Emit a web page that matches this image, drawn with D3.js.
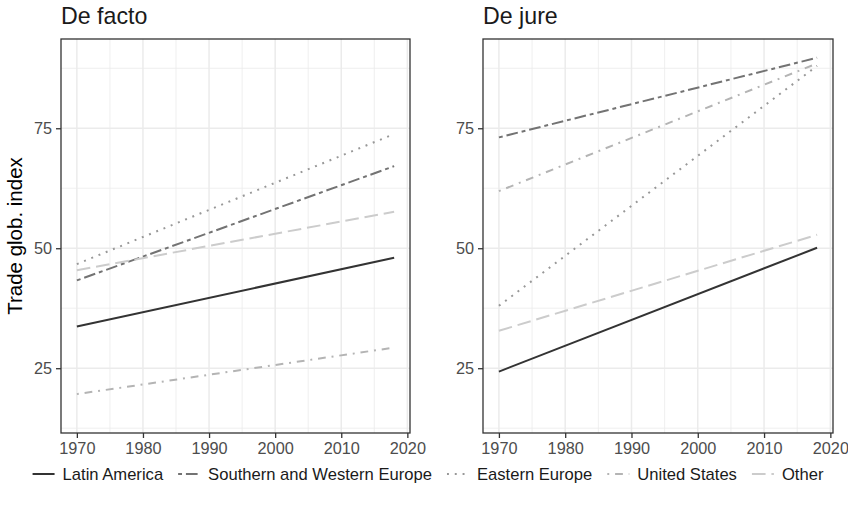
<!DOCTYPE html>
<html>
<head>
<meta charset="utf-8">
<script src="https://cdn.jsdelivr.net/npm/d3@7"></script>
<style>
  html, body { margin: 0; padding: 0; background: #ffffff; }
  svg { display: block; font-family: "Liberation Sans", Arial, sans-serif; }
</style>
</head>
<body>
<svg id="chart" width="848" height="513"></svg>
<script>
// Fitted trend lines of the trade globalisation index, 1970–2018
const years = [1970, 2018];
const regions = ["Latin America", "Southern and Western Europe", "Eastern Europe", "United States", "Other"];
const panels = ["De facto", "De jure"];

// value at 1970 and 2018 for each region, in the order of `regions`
const deFactoStart = [33.7, 43.3, 46.7, 19.6, 45.4];
const deFactoEnd   = [48.0, 67.1, 73.8, 29.3, 57.6];
const deJureStart  = [24.3, 73.1, 38.0, 61.9, 32.8];
const deJureEnd    = [50.1, 89.7, 88.0, 88.5, 52.8];

const xTicks = [1970, 1980, 1990, 2000, 2010, 2020];
const xMinor = [1975, 1985, 1995, 2005, 2015];
const yTicks = [25, 50, 75];
const yMinor = [12.5, 37.5, 62.5, 87.5];

const colours = ["#333333", "#737373", "#989898", "#b4b4b4", "#cccccc"];
// solid, twodash, dotted, dotdash, longdash (R patterns scaled by line width)
const u = 1.95;
const dashes = [
  "none",
  [2, 2, 6, 2].map(v => v * u).join(" "),
  [1, 3].map(v => v * u).join(" "),
  [1, 3, 4, 3].map(v => v * u).join(" "),
  [7, 3].map(v => v * u).join(" ")
];

const svg = d3.select("#chart");
const plotTop = 39, plotBottom = 433;
const panelX = [[61, 410], [483, 833]];
const panelData = [[deFactoStart, deFactoEnd], [deJureStart, deJureEnd]];

const y = d3.scaleLinear().domain([11.5, 93.6]).range([plotBottom, plotTop]);

panels.forEach((title, p) => {
  const [x0, x1] = panelX[p];
  const x = d3.scaleLinear().domain([1967.6, 2020.4]).range([x0, x1]);
  const g = svg.append("g");

  // panel background
  g.append("rect").attr("x", x0).attr("y", plotTop)
    .attr("width", x1 - x0).attr("height", plotBottom - plotTop).attr("fill", "#ffffff");

  // minor grid
  g.selectAll(".vminor").data(xMinor).join("line")
    .attr("x1", d => x(d)).attr("x2", d => x(d)).attr("y1", plotTop).attr("y2", plotBottom)
    .attr("stroke", "#ebebeb").attr("stroke-width", 0.8);
  g.selectAll(".hminor").data(yMinor).join("line")
    .attr("x1", x0).attr("x2", x1).attr("y1", d => y(d)).attr("y2", d => y(d))
    .attr("stroke", "#ebebeb").attr("stroke-width", 0.8);
  // major grid
  g.selectAll(".vmajor").data(xTicks).join("line")
    .attr("x1", d => x(d)).attr("x2", d => x(d)).attr("y1", plotTop).attr("y2", plotBottom)
    .attr("stroke", "#ebebeb").attr("stroke-width", 1.5);
  g.selectAll(".hmajor").data(yTicks).join("line")
    .attr("x1", x0).attr("x2", x1).attr("y1", d => y(d)).attr("y2", d => y(d))
    .attr("stroke", "#ebebeb").attr("stroke-width", 1.5);

  // trend lines
  const [starts, ends] = panelData[p];
  const line = d3.line().x(d => x(d[0])).y(d => y(d[1]));
  regions.forEach((r, i) => {
    const pts = [[years[0], starts[i]], [years[1], ends[i]]];
    g.append("path").attr("d", line(pts))
      .attr("fill", "none")
      .attr("stroke", colours[i])
      .attr("stroke-width", 2)
      .attr("stroke-dasharray", dashes[i]);
  });

  // border
  g.append("rect").attr("x", x0).attr("y", plotTop)
    .attr("width", x1 - x0).attr("height", plotBottom - plotTop)
    .attr("fill", "none").attr("stroke", "#333333").attr("stroke-width", 1.3);

  // axes
  const xAxis = d3.axisBottom(x).tickValues(xTicks).tickFormat(d3.format("d"))
    .tickSize(5).tickPadding(4);
  const ax = g.append("g").attr("transform", `translate(0,${plotBottom})`).call(xAxis);
  const yAxis = d3.axisLeft(y).tickValues(yTicks).tickSize(5).tickPadding(4);
  const ay = g.append("g").attr("transform", `translate(${x0},0)`).call(yAxis);
  [ax, ay].forEach(a => {
    a.select(".domain").remove();
    a.selectAll(".tick line").attr("stroke", "#333333").attr("stroke-width", 1.3);
    a.selectAll(".tick text").attr("fill", "#4d4d4d")
      .style("font-size", "16.3px").style("font-family", "'Liberation Sans', Arial, sans-serif");
  });

  // panel title
  g.append("text").attr("x", x0).attr("y", 23.5)
    .attr("fill", "#1a1a1a").style("font-size", "23.2px").text(title);
});

// y-axis title
svg.append("text")
  .attr("transform", `translate(22,${(plotTop + plotBottom) / 2}) rotate(-90)`)
  .attr("text-anchor", "middle").attr("fill", "#000000")
  .style("font-size", "20.5px").text("Trade glob. index");

// legend
const legend = svg.append("g");
const keyW = 22, keyGap = 8, itemGap = 15, legendY = 474;
let cx = 0;
const items = [];
regions.forEach((r, i) => {
  const it = legend.append("g");
  it.append("line").attr("x1", 0).attr("x2", keyW).attr("y1", 0).attr("y2", 0)
    .attr("stroke", colours[i]).attr("stroke-width", 2)
    .attr("stroke-dasharray", dashes[i]);
  const t = it.append("text").attr("x", keyW + keyGap).attr("y", 5.8)
    .attr("fill", "#1a1a1a").style("font-size", "16.6px").text(r);
  const w = keyW + keyGap + t.node().getComputedTextLength();
  items.push({ it, w });
});
const totalW = d3.sum(items, d => d.w) + itemGap * (items.length - 1);
cx = 428 - totalW / 2;
items.forEach(d => {
  d.it.attr("transform", `translate(${cx},${legendY})`);
  cx += d.w + itemGap;
});
</script>
</body>
</html>
